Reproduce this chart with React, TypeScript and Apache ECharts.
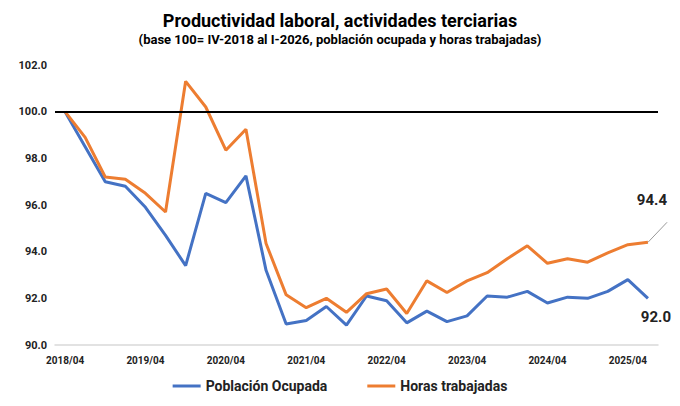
import React, { useEffect, useRef } from 'react';
import * as echarts from 'echarts';

const categories = [
  '2018/04',
  '2019/01', '2019/02', '2019/03', '2019/04',
  '2020/01', '2020/02', '2020/03', '2020/04',
  '2021/01', '2021/02', '2021/03', '2021/04',
  '2022/01', '2022/02', '2022/03', '2022/04',
  '2023/01', '2023/02', '2023/03', '2023/04',
  '2024/01', '2024/02', '2024/03', '2024/04',
  '2025/01', '2025/02', '2025/03', '2025/04',
  '2026/01',
];
const poblacion = [
  100, 98.5, 97.0, 96.8, 95.9, 94.7, 93.4, 96.5, 96.1, 97.25,
  93.2, 90.9, 91.05, 91.65, 90.85, 92.1, 91.9, 90.95, 91.45, 91.0,
  91.25, 92.1, 92.05, 92.3, 91.8, 92.05, 92.0, 92.3, 92.8, 92.0,
];
const horas = [
  100, 98.9, 97.2, 97.1, 96.5, 95.7, 101.3, 100.2, 98.35, 99.25,
  94.35, 92.15, 91.6, 92.0, 91.4, 92.2, 92.4, 91.35, 92.75, 92.25,
  92.75, 93.1, 93.7, 94.25, 93.5, 93.7, 93.55, 93.95, 94.3, 94.4,
];

const FONT = 'Roboto';

const App: React.FC = () => {
  const chartRef = useRef<HTMLDivElement>(null);

  useEffect(() => {
    if (!chartRef.current) return;
    const chart = echarts.init(chartRef.current, null, { renderer: 'svg' });
    const last = categories.length - 1;
    const withLastLabel = (arr: number[], label: object) =>
      arr.map((v, i) => (i === last ? { value: v, label } : v));

    chart.setOption({
      animation: false,
      textStyle: { fontFamily: FONT },
      title: {
        text: 'Productividad laboral, actividades terciarias',
        subtext: '(base 100= IV-2018 al I-2026, población ocupada y horas trabajadas)',
        left: 'center',
        top: -2,
        itemGap: 4,
        textStyle: { fontSize: 18, fontWeight: 'bold', color: '#000', fontFamily: FONT },
        subtextStyle: { fontSize: 13, fontWeight: 'bold', color: '#000', fontFamily: FONT },
      },
      legend: {
        bottom: 0,
        itemWidth: 28,
        itemHeight: 3,
        itemGap: 40,
        icon: 'rect',
        textStyle: { fontSize: 14, fontWeight: 'bold', color: '#222' },
        data: ['Población Ocupada', 'Horas trabajadas'],
      },
      grid: { left: 47, right: 14, top: 57, bottom: 53 },
      xAxis: {
        type: 'category',
        data: categories,
        boundaryGap: true,
        axisLine: { lineStyle: { color: '#d9d9d9', width: 1.5 } },
        axisTick: { show: false },
        axisLabel: {
          interval: 3,
          color: '#222',
          fontSize: 10,
          fontWeight: 'bold',
          margin: 10,
        },
      },
      yAxis: {
        type: 'value',
        min: 90,
        max: 102,
        interval: 2,
        axisLine: { show: false },
        axisTick: { show: false },
        splitLine: { show: false },
        axisLabel: {
          color: '#222',
          fontSize: 11,
          fontWeight: 'bold',
          formatter: (v: number) => v.toFixed(1),
        },
      },
      series: [
        {
          name: 'Población Ocupada',
          type: 'line',
          data: withLastLabel(poblacion, {
            show: true,
            position: 'bottom',
            offset: [8, 6],
            fontSize: 15,
            fontWeight: 'bold',
            color: '#222',
            formatter: (p: any) => p.value.toFixed(1),
          }),
          symbol: 'circle',
          symbolSize: 0.1,
          showSymbol: true,
          lineStyle: { color: '#4472c4', width: 3 },
          itemStyle: { color: '#4472c4' },
          markLine: {
            silent: true,
            symbol: 'none',
            label: { show: false },
            lineStyle: { color: '#000', width: 2, type: 'solid' },
            data: [{ yAxis: 100 }],
          },
        },
        {
          name: 'Horas trabajadas',
          type: 'line',
          data: withLastLabel(horas, {
            show: true,
            position: 'top',
            offset: [4, -30],
            fontSize: 15,
            fontWeight: 'bold',
            color: '#222',
            formatter: (p: any) => p.value.toFixed(1),
          }),
          labelLine: { show: true, lineStyle: { color: '#999', width: 1 } },
          symbol: 'circle',
          symbolSize: 0.1,
          showSymbol: true,
          lineStyle: { color: '#ed7d31', width: 3 },
          itemStyle: { color: '#ed7d31' },
        },
      ],
    });

    return () => chart.dispose();
  }, []);

  return <div ref={chartRef} style={{ width: 664, height: 390 }} />;
};

export default App;
